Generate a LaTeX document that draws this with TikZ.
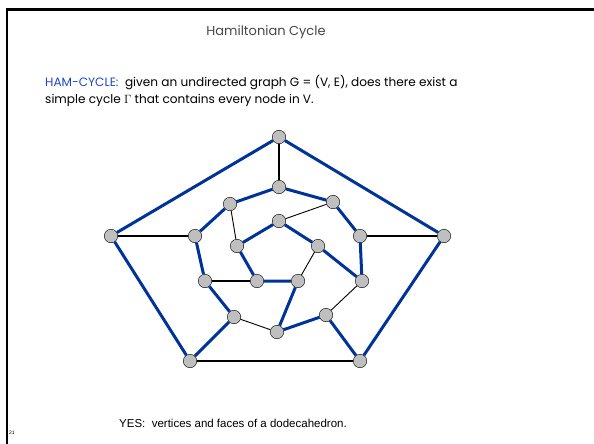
\documentclass[tikz,border=0pt]{standalone}
\usepackage{fontspec}
\setmainfont{Poppins}
\newfontfamily\capfont{Liberation Sans}
\usepackage{tikz}
\usetikzlibrary{positioning}
\definecolor{hamblue}{RGB}{0,51,153}
\definecolor{txtblue}{RGB}{30,70,200}
\definecolor{titlegray}{RGB}{70,70,70}
\tikzset{
  vtx/.style={circle,draw=black,fill=gray!50,minimum size=13.5pt,inner sep=0pt,thin},
  ham/.style={hamblue,line width=3pt},
  rest/.style={black,line width=2pt},
  restthin/.style={black,line width=0.9pt}
}
\begin{document}
\begin{tikzpicture}[x=1pt,y=-1pt]
        \useasboundingbox (0,0) rectangle (594,444);
        \draw[line width=2.5pt] (7,444) --(7,9.5) --(594,9.5); %frame
        \node[titlegray,font=\fontsize{13}{15}\selectfont] (title) at (266,32) {Hamiltonian Cycle};
        \node[anchor=west,inner sep=0pt,font=\fontsize{12.1}{14}\selectfont] (line1) at (45,82) {\textcolor{txtblue}{HAM-CYCLE:}\ \ given an undirected graph G = (V, E), does there exist a};
        \node[anchor=west,inner sep=0pt,font=\fontsize{12.1}{14}\selectfont] (line2) at (45,100) {simple cycle $\Gamma$ that contains every node in V.};
        % outer pentagon
        \node[vtx] (o1) at (279,137) {};
        \node[vtx] (o2) at (111,236) {};
        \node[vtx] (o3) at (190,361) {};
        \node[vtx] (o4) at (360,361) {};
        \node[vtx] (o5) at (444,236) {};
        % middle ring
        \node[vtx] (m1) at (279,187) {};
        \node[vtx] (m2) at (230,204) {};
        \node[vtx] (m3) at (195,236) {};
        \node[vtx] (m4) at (205,281) {};
        \node[vtx] (m5) at (234,317) {};
        \node[vtx] (m6) at (277,332) {};
        \node[vtx] (m7) at (326,315) {};
        \node[vtx] (m8) at (362,281) {};
        \node[vtx] (m9) at (360,236) {};
        \node[vtx] (m10) at (333,202) {};
        % inner pentagon
        \node[vtx] (i1) at (279,221) {};
        \node[vtx] (i2) at (237,246) {};
        \node[vtx] (i3) at (257,281) {};
        \node[vtx] (i4) at (298,281) {};
        \node[vtx] (i5) at (318,246) {};
        % cycle
        \draw[ham] (o1) --(o2) --(o3) --(m5) --(m4) --(m3) --(m2) --(m1) --(m10) --(m9) --(m8) --(i5) --(i1) --(i2) --(i3) --(i4) --(m6) --(m7) --(o4) --(o5) --(o1);
        % other edges
        \draw[rest] (o1) --(m1);
        \draw[rest] (o2) --(m3);
        \draw[rest] (o5) --(m9);
        \draw[rest] (o3) --(o4);
        \draw[rest] (m4) --(i3);
        \draw[restthin] (m2) --(i2);
        \draw[restthin] (m5) --(m6);
        \draw[restthin] (m7) --(m8);
        \draw[restthin] (m10) --(i1);
        \draw[restthin] (i4) --(i5);
        \node[font=\capfont\fontsize{11.5}{13}\selectfont] (caption) at (233,423) {YES:\ \ vertices and faces of a dodecahedron.};
        \node[font=\capfont\fontsize{5}{6}\selectfont] (pagenum) at (12,433) {21};
    \end{tikzpicture}
\end{document}
